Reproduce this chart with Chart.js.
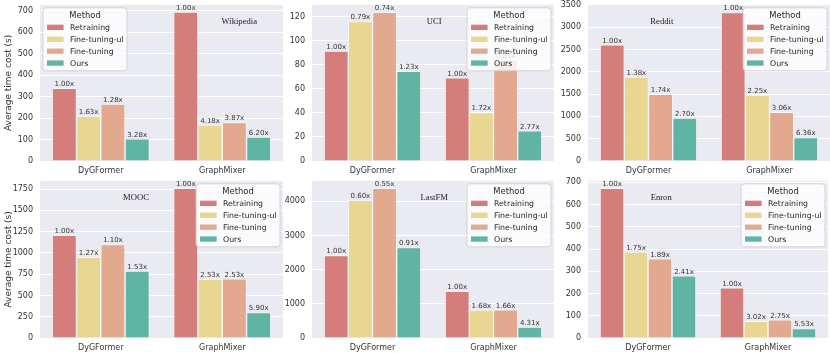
<!DOCTYPE html>
<html>
<head>
<meta charset="utf-8">
<script src="https://cdn.jsdelivr.net/npm/chart.js@4.4.0/dist/chart.umd.min.js"></script>
<style>
  html, body { margin: 0; padding: 0; background: #fff; }
  body { width: 830px; height: 353px; position: relative; overflow: hidden; }
  canvas { position: absolute; }
</style>
</head>
<body>
<script>
const models = ['DyGFormer', 'GraphMixer'];
const methods = ['Retraining', 'Fine-tuning-ul', 'Fine-tuning', 'Ours'];
const methodColors = ['#d57d7b', '#e9d791', '#e2a98e', '#5fb4a3'];

// average time cost (s), one row per method, columns = [DyGFormer, GraphMixer]
const wikipediaCost = [[339, 694], [208, 166], [265, 179], [103, 112]];
const wikipediaSpeedup = [['1.00x', '1.00x'], ['1.63x', '4.18x'], ['1.28x', '3.87x'], ['3.28x', '6.20x']];
const wikipediaTicks = [0, 100, 200, 300, 400, 500, 600, 700];

const uciCost = [[91.5, 69.3], [116, 40.3], [123.8, 83.5], [74.6, 25.1]];
const uciSpeedup = [['1.00x', '1.00x'], ['0.79x', '1.72x'], ['0.74x', '0.83x'], ['1.23x', '2.77x']];
const uciTicks = [0, 20, 40, 60, 80, 100, 120];

const redditCost = [[2603, 3324], [1880, 1478], [1492, 1090], [964, 523]];
const redditSpeedup = [['1.00x', '1.00x'], ['1.38x', '2.25x'], ['1.74x', '3.06x'], ['2.70x', '6.36x']];
const redditTicks = [0, 500, 1000, 1500, 2000, 2500, 3000, 3500];

const moocCost = [[1206, 1760], [948, 694], [1098, 696], [788, 299]];
const moocSpeedup = [['1.00x', '1.00x'], ['1.27x', '2.53x'], ['1.10x', '2.53x'], ['1.53x', '5.90x']];
const moocTicks = [0, 250, 500, 750, 1000, 1250, 1500, 1750];

const lastfmCost = [[2416, 1367], [4026, 815], [4380, 824], [2650, 317]];
const lastfmSpeedup = [['1.00x', '1.00x'], ['0.60x', '1.68x'], ['0.55x', '1.66x'], ['0.91x', '4.31x']];
const lastfmTicks = [0, 1000, 2000, 3000, 4000];

const enronCost = [[673, 226], [386, 75], [356, 82], [280, 42]];
const enronSpeedup = [['1.00x', '1.00x'], ['1.75x', '3.02x'], ['1.89x', '2.75x'], ['2.41x', '5.53x']];
const enronTicks = [0, 100, 200, 300, 400, 500, 600, 700];

const datasetNames = ['Wikipedia', 'UCI', 'Reddit', 'MOOC', 'LastFM', 'Enron'];
const yMax = [728, 130, 3500, 1848, 4600, 707];

Chart.defaults.font.family = '"DejaVu Sans", sans-serif';
Chart.defaults.color = '#333';

const panels = [
    { cost: wikipediaCost, speed: wikipediaSpeedup, ticks: wikipediaTicks, left: 0,   top: -7,  w: 283, h: 185, yw: 40, legend: 'left',  tx: 0.82, ytitle: true },
    { cost: uciCost,       speed: uciSpeedup,       ticks: uciTicks,       left: 283, top: -7,  w: 271, h: 185, yw: 29, legend: 'right', tx: 0.505 },
    { cost: redditCost,    speed: redditSpeedup,    ticks: redditTicks,    left: 554, top: -7,  w: 276, h: 185, yw: 34, legend: 'right', tx: 0.305 },
    { cost: moocCost,      speed: moocSpeedup,      ticks: moocTicks,      left: 0,   top: 169, w: 283, h: 186, yw: 40, legend: 'right', tx: 0.395, ytitle: true },
    { cost: lastfmCost,    speed: lastfmSpeedup,    ticks: lastfmTicks,    left: 283, top: 169, w: 271, h: 186, yw: 29, legend: 'right', tx: 0.505 },
    { cost: enronCost,     speed: enronSpeedup,     ticks: enronTicks,     left: 554, top: 169, w: 274, h: 186, yw: 34, legend: 'right', tx: 0.305 }
];

// background, speedup labels, dataset name and the in-axes legend
const panelDecor = {
    id: 'panelDecor',
    beforeDraw(chart) {
        const a = chart.chartArea;
        const ctx = chart.ctx;
        ctx.save();
        ctx.fillStyle = '#eaeaf2';
        ctx.fillRect(a.left, a.top, a.right - a.left, a.bottom - a.top);
        ctx.restore();
    },
    afterDatasetsDraw(chart, args, opts) {
        const ctx = chart.ctx;
        const a = chart.chartArea;
        ctx.save();
        ctx.font = '7px "DejaVu Sans"';
        ctx.fillStyle = '#333';
        ctx.textAlign = 'center';
        ctx.textBaseline = 'bottom';
        chart.data.datasets.forEach((ds, i) => {
            chart.getDatasetMeta(i).data.forEach((bar, j) => {
                ctx.fillText(opts.labels[i][j], bar.x, bar.y - 0.5);
            });
        });
        ctx.font = '8.6px "Liberation Serif"';
        ctx.fillStyle = '#222';
        ctx.textBaseline = 'middle';
        ctx.fillText(opts.title, a.left + opts.tx * (a.right - a.left), a.top + 16.5);
        ctx.restore();
    },
    afterDraw(chart, args, opts) {
        const ctx = chart.ctx;
        const a = chart.chartArea;
        const w = 84, h = 63;
        const x = opts.side === 'left' ? a.left + 3 : a.right - 3 - w;
        const y = a.top + 3;
        ctx.save();
        ctx.beginPath();
        ctx.roundRect(x, y, w, h, 3);
        ctx.fillStyle = 'rgba(255,255,255,0.8)';
        ctx.fill();
        ctx.strokeStyle = '#cccccc';
        ctx.lineWidth = 0.8;
        ctx.stroke();
        ctx.fillStyle = '#262626';
        ctx.textAlign = 'center';
        ctx.textBaseline = 'middle';
        ctx.font = '8.4px "DejaVu Sans"';
        ctx.fillText('Method', x + w / 2, y + 8);
        ctx.textAlign = 'left';
        ctx.font = '7.8px "DejaVu Sans"';
        chart.data.datasets.forEach((ds, i) => {
            const cy = y + 19.5 + i * 11.9;
            ctx.fillStyle = ds.backgroundColor;
            ctx.fillRect(x + 4, cy - 2.6, 16.6, 5.3);
            ctx.fillStyle = '#262626';
            ctx.fillText(ds.label, x + 27, cy + 0.5);
        });
        ctx.restore();
    }
};

panels.forEach((p, k) => {
    const cv = document.createElement('canvas');
    cv.width = p.w;
    cv.height = p.h;
    cv.style.left = p.left + 'px';
    cv.style.top = p.top + 'px';
    cv.style.width = p.w + 'px';
    cv.style.height = p.h + 'px';
    document.body.appendChild(cv);

    new Chart(cv.getContext('2d'), {
        type: 'bar',
        data: {
            labels: models,
            datasets: methods.map((m, i) => ({
                label: m,
                data: p.cost[i],
                backgroundColor: methodColors[i],
                borderColor: '#ffffff',
                borderWidth: 0.7,
                categoryPercentage: 0.8,
                barPercentage: 1.0
            }))
        },
        options: {
            responsive: false,
            animation: false,
            devicePixelRatio: 1,
            layout: { padding: { top: 10, left: 0, right: 0, bottom: 0 } },
            plugins: {
                legend: { display: false },
                tooltip: { enabled: false },
                panelDecor: { labels: p.speed, title: datasetNames[k], tx: p.tx, side: p.legend }
            },
            scales: {
                x: {
                    grid: { display: false, drawTicks: false },
                    border: { display: false },
                    ticks: { font: { size: 8 }, color: '#333', padding: 5 },
                    afterFit: s => { s.height = 17; }
                },
                y: {
                    min: 0,
                    max: yMax[k],
                    bounds: 'data',
                    grid: { color: '#ffffff', lineWidth: 1, drawTicks: false },
                    border: { display: false },
                    ticks: {
                        padding: 7,
                        font: { size: 8 },
                        color: '#333',
                        callback: v => String(v)
                    },
                    afterBuildTicks: s => { s.ticks = p.ticks.map(v => ({ value: v })); },
                    title: {
                        display: !!p.ytitle,
                        text: 'Average time cost (s)',
                        font: { size: 9 },
                        color: '#333',
                        padding: { top: 3, bottom: 0 }
                    },
                    afterFit: s => { s.width = p.yw; }
                }
            }
        },
        plugins: [panelDecor]
    });
});
</script>
</body>
</html>
